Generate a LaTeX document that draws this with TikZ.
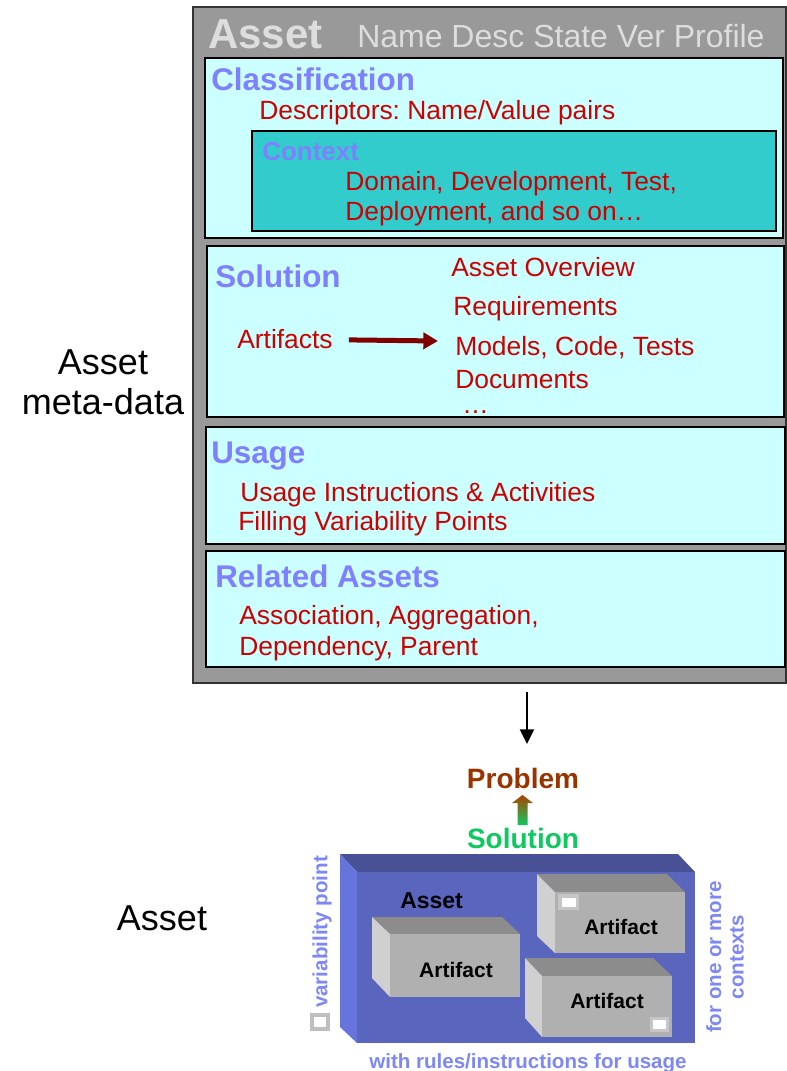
\documentclass[tikz,border=0pt]{standalone}
\usepackage{fontspec}
\setmainfont{Liberation Sans}
\usetikzlibrary{arrows.meta}
\frenchspacing
\definecolor{hdrblue}{HTML}{8080FF}
\definecolor{itemred}{HTML}{CC0000}
\definecolor{paleCyan}{HTML}{CCFFFF}
\definecolor{ctxteal}{HTML}{33CCCC}
\definecolor{frameGray}{HTML}{999999}
\definecolor{titleGray}{HTML}{DDDDDD}
\definecolor{arrowRed}{HTML}{800000}
\definecolor{probBrown}{HTML}{993300}
\definecolor{solGreen}{HTML}{10C860}
\definecolor{boxFront}{RGB}{90,102,190}
\definecolor{boxTop}{RGB}{72,80,150}
\definecolor{boxSide}{RGB}{102,116,220}
\definecolor{artFront}{HTML}{B0B0B0}
\definecolor{artTop}{HTML}{8C8C8C}
\definecolor{artSide}{HTML}{D0D0D0}
\definecolor{noteBlue}{RGB}{125,135,245}
\tikzset{
  txt/.style={inner sep=0pt, anchor=base west},
  hdr/.style={txt, text=hdrblue, font=\fontsize{23.5}{28}\selectfont\bfseries},
  item/.style={txt, text=itemred, font=\fontsize{19.8}{23}\selectfont},
  panel/.style={draw=black, line width=1.5pt, fill=paleCyan},
  lbl/.style={inner sep=0pt, font=\fontsize{27}{30}\selectfont, align=center},
  note/.style={inner sep=0pt, text=noteBlue, font=\fontsize{15.4}{17}\selectfont\bfseries},
  arttxt/.style={inner sep=0pt, anchor=base, font=\fontsize{15.75}{18}\selectfont\bfseries},
}
% a 3D block: back top-left (#1,#2), back top-right x #3, front rect (#4,#5)-(#6,#7),
% side bottom y #8, colour set #9 (uses #9Top, #9Side, #9Front)
\newcommand\blockbox[9]{%
  \fill[#9Top] (#1,#2) -- (#3,#2) -- (#6,#5) -- (#4,#5) -- cycle;
  \fill[#9Side] (#1,#2) -- (#4,#5) -- (#4,#7) -- (#1,#8) -- cycle;
  \fill[#9Front] (#4,#5) rectangle (#6,#7);
}
\begin{document}
\begin{tikzpicture}[x=0.75pt, y=-0.75pt]
\useasboundingbox (0,0) rectangle (787,1071);

% ---- meta-data frame ----
\draw[fill=frameGray, draw=black!80, line width=1.5pt] (193,7) rectangle (786,683);
\coordinate (frameBottom) at (527,692);
\node[txt, text=titleGray, font=\fontsize{31.5}{34}\selectfont\bfseries] (ttl) at (208,48) {Asset};
\node[txt, text=titleGray, font=\fontsize{24}{28}\selectfont] (attrs) at (357,47) {Name Desc State Ver Profile};

% Classification
\draw[panel] (205,58) rectangle (783,238);
\node[hdr] (cls) at (211,90) {Classification};
\node[item] (desc) at (259,119) {Descriptors: Name/Value pairs};
\draw[draw=black, line width=1.5pt, fill=ctxteal] (252,131) rectangle (776,231);
\node[txt, text=hdrblue, font=\fontsize{19.5}{23}\selectfont\bfseries] (ctx) at (262,160) {Context};
\node[item] (ctx1) at (345,190) {Domain, Development, Test,};
\node[item] (ctx2) at (345,220) {Deployment, and so on…};

% Solution
\draw[panel] (207,246) rectangle (784,417);
\node[hdr] (sol) at (215,287) {Solution};
\node[item] (ov) at (451,276) {Asset Overview};
\node[item] (req) at (453,315) {Requirements};
\node[item] (arts) at (237,348) {Artifacts};
\node[item] (mct) at (455,355) {Models, Code, Tests};
\node[item] (docs) at (455,388) {Documents};
\node[item] (more) at (462,413) {…};
\coordinate (artsTo) at (438,341);
\draw[arrowRed, line width=3.75pt, -{Triangle[length=11pt,width=12pt]}] ([xshift=12pt,yshift=-1pt]arts.east) -- (artsTo);

% Usage
\draw[panel] (206,427) rectangle (785,544);
\node[hdr] (use) at (211,463) {Usage};
\node[item] (use1) at (240,501) {Usage Instructions \& Activities};
\node[item] (use2) at (238,530) {Filling Variability Points};

% Related Assets
\draw[panel] (206,551) rectangle (785,667);
\node[hdr] (rel) at (215,587) {Related Assets};
\node[item] (rel1) at (239,624) {Association, Aggregation,};
\node[item] (rel2) at (239,655) {Dependency, Parent};

% left labels
\node[lbl] (metaLbl) at (103,382) {Asset\\meta-data};
\node[lbl, anchor=base] (assetLbl) at (162,930) {Asset};

% ---- asset illustration ----
\coordinate (illTop) at (527,744);
\draw[black, line width=1.5pt, -{Triangle[length=11pt,width=10.5pt]}] (frameBottom) -- (illTop);

\node[inner sep=0pt, anchor=base, text=probBrown, font=\fontsize{21}{24}\selectfont\bfseries] (prob) at (523,788) {Problem};
\node[inner sep=0pt, anchor=base, text=solGreen, font=\fontsize{21}{24}\selectfont\bfseries] (solu) at (523,848) {Solution};
\shade[top color=probBrown!80!orange, bottom color=solGreen]
  (517.5,825) -- (517.5,803) -- (512,803) -- (522.5,795) -- (533,803) -- (527.5,803) -- (527.5,825) -- cycle;

% outer asset block
\blockbox{340}{854}{678}{357}{872}{695}{1043}{1027}{box}
\node[inner sep=0pt, anchor=base west, font=\fontsize{17.25}{20}\selectfont\bfseries] (assetIn) at (400,908) {Asset};

% artifact blocks
\blockbox{372}{917}{502}{390}{934}{520}{997}{978}{art}
\node[arttxt] (art1) at (456,977) {Artifact};
\blockbox{537}{874}{667}{555}{892}{685}{953}{936}{art}
\node[arttxt] (art2) at (621,934) {Artifact};
\fill[gray!45] (558,894) rectangle (579,910);
\fill[white] (562,898) rectangle (576,907);
\blockbox{525}{958}{653}{542}{976}{672}{1037}{1018}{art}
\node[arttxt] (art3) at (607,1008) {Artifact};
\fill[gray!45] (650,1017) rectangle (669,1032);
\fill[white] (653,1020) rectangle (666,1029);

% side and bottom notes
\node[note, rotate=90] (varpt) at (322,932) {variability point};
\draw[draw=gray!50, fill=white, line width=3pt] (312,1015) rectangle (328,1029);
\node[note, rotate=90, align=center] (ctxs) at (725,957) {for one or more\\contexts};
\node[note, anchor=base] (rules) at (528,1068) {with rules/instructions for usage};
\end{tikzpicture}
\end{document}
